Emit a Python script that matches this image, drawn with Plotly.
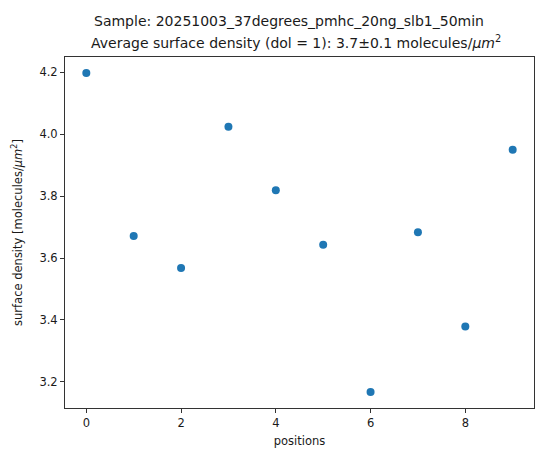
import plotly.graph_objects as go

# Surface density measured at each imaging position
positions = [0, 1, 2, 3, 4, 5, 6, 7, 8, 9]
surface_density = [4.198, 3.671, 3.568, 4.024, 3.819, 3.643, 3.167, 3.683, 3.379, 3.950]

sample_name = "20251003_37degrees_pmhc_20ng_slb1_50min"
mean_density = "3.7"
err_density = "0.1"

x_ticks = [0, 2, 4, 6, 8]
y_ticks = [3.2, 3.4, 3.6, 3.8, 4.0, 4.2]

FONT = "DejaVu Sans"
TXT = "#1a1a1a"

fig = go.Figure()
fig.add_trace(go.Scatter(
    x=positions, y=surface_density, mode="markers",
    marker=dict(color="#1f77b4", size=8, line=dict(width=0)),
    showlegend=False,
))

# 5% padding around the data, like matplotlib's auto-limits
xmin, xmax = min(positions), max(positions)
ymin, ymax = min(surface_density), max(surface_density)
xpad = (xmax - xmin) * 0.05
ypad = (ymax - ymin) * 0.05

axis_common = dict(
    showline=True, mirror=True, linecolor="#333", linewidth=1,
    ticks="outside", ticklen=4, tickcolor="#333", tickwidth=1,
    showgrid=False, zeroline=False,
    tickfont=dict(family=FONT, size=11.5, color=TXT),
)

fig.update_layout(
    width=537, height=449,
    margin=dict(l=65, r=3, t=57, b=41),
    paper_bgcolor="white", plot_bgcolor="white",
    font=dict(family=FONT, color=TXT),
    xaxis=dict(
        range=[xmin - xpad, xmax + xpad], tickvals=x_ticks,
        ticktext=[str(v) for v in x_ticks],
        title=dict(text="positions", font=dict(family=FONT, size=11.5, color=TXT), standoff=8),
        **axis_common,
    ),
    yaxis=dict(
        range=[ymin - ypad, ymax + ypad], tickvals=y_ticks,
        ticktext=[f"{v:.1f}" for v in y_ticks],
        title=dict(text="surface density [molecules/<i>μm</i><sup>2</sup>]",
                   font=dict(family=FONT, size=11.5, color=TXT), standoff=14),
        **axis_common,
    ),
    annotations=[
        dict(text=f"Sample: {sample_name}", xref="paper", yref="paper",
             x=0.478, y=1.0, yshift=36, xanchor="center", yanchor="middle",
             showarrow=False, font=dict(family=FONT, size=14, color=TXT)),
        dict(text=f"Average surface density (dol = 1): {mean_density}±{err_density} molecules/<i>μm</i><sup>2</sup>",
             xref="paper", yref="paper",
             x=0.4925, y=1.0, yshift=15, xanchor="center", yanchor="middle",
             showarrow=False, font=dict(family=FONT, size=14, color=TXT)),
    ],
)

fig.write_html("out.html")
